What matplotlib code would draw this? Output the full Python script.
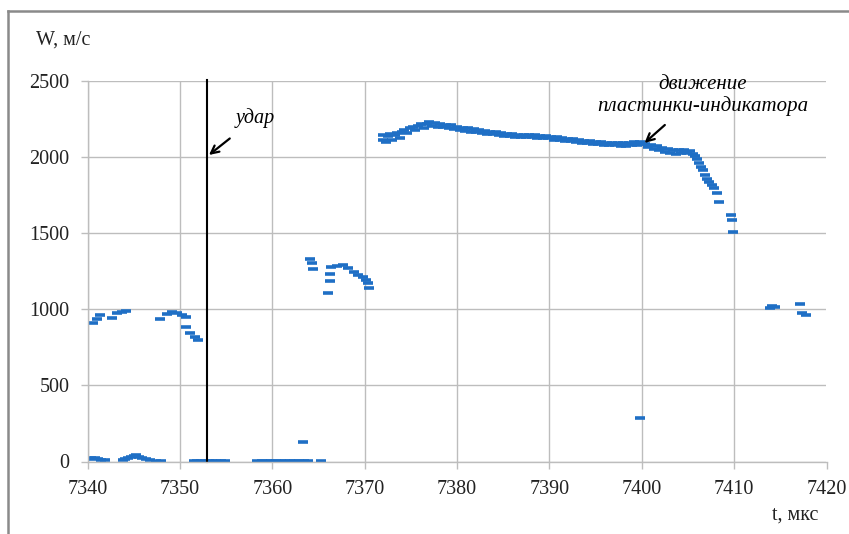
import matplotlib
matplotlib.use("Agg")
import matplotlib.pyplot as plt
from matplotlib.lines import Line2D

plt.rcParams['font.family'] = ['Liberation Serif', 'DejaVu Serif']

# скорость около нуля (до удара и между участками)
t_zero = [7340.1, 7340.4, 7340.8, 7341.1, 7341.5, 7341.9,
          7343.8, 7344.1, 7344.4, 7344.7, 7345.0, 7345.3, 7345.6, 7345.9,
          7346.3, 7346.8, 7347.4, 7348.0,
          7351.5, 7351.9, 7352.3, 7352.7, 7353.1, 7353.5, 7353.9, 7354.4, 7354.9,
          7358.4, 7358.9, 7359.4, 7359.9, 7360.4, 7360.9, 7361.4, 7361.9,
          7362.4, 7362.9, 7363.4, 7363.9, 7365.3,
          7363.3, 7399.8]
w_zero = [18, 22, 20, 15, 12, 8,
          10, 18, 25, 32, 38, 40, 30, 22,
          15, 8, 5, 4,
          5, 4, 5, 4, 5, 4, 5, 4, 5,
          5, 4, 5, 4, 5, 4, 5, 4,
          5, 4, 5, 4, 4,
          125, 285]

# участок около 1000 м/с
t_1000 = [7340.6, 7341.0, 7341.35, 7342.6, 7343.2, 7343.7, 7344.2,
          7347.85, 7348.6, 7349.1, 7349.65, 7350.2, 7350.7, 7350.7,
          7351.1, 7351.6, 7352.0]
w_1000 = [908, 934, 962, 941, 973, 984, 989,
          934, 969, 984, 978, 962, 947, 886,
          846, 820, 798]

# участок около 1300 м/с
t_1300 = [7364.1, 7364.3, 7364.4, 7366.2, 7366.2, 7366.05,
          7366.4, 7367.0, 7367.7, 7368.2, 7368.8, 7369.3, 7369.8,
          7370.15, 7370.4, 7370.5]
w_1300 = [1328, 1306, 1262, 1232, 1188, 1109,
          1280, 1284, 1289, 1269, 1247, 1225, 1210,
          1192, 1175, 1138]

# движение пластинки-индикатора
t_plate = [7372.0, 7372.0, 7372.3, 7372.5, 7372.8, 7373.0, 7373.3, 7373.5,
           7373.8, 7374.0, 7374.3, 7374.6, 7374.9, 7375.2, 7375.5, 7375.8,
           7376.1, 7376.4, 7376.7, 7377.0, 7377.3, 7377.6, 7377.9, 7378.2,
           7378.5, 7378.8, 7379.1, 7379.4, 7379.7, 7380.0, 7380.3, 7380.6,
           7380.9, 7381.2, 7381.5, 7381.8, 7382.1, 7382.4, 7382.7, 7383.0,
           7383.3, 7383.6, 7383.9, 7384.2, 7384.5, 7384.8, 7385.1, 7385.4,
           7385.7, 7386.0, 7386.3, 7386.6, 7386.9, 7387.2, 7387.5, 7387.8,
           7388.1, 7388.4, 7388.7, 7389.0, 7389.3, 7389.6, 7389.9, 7390.2,
           7390.5, 7390.8, 7391.1, 7391.4, 7391.7, 7392.0, 7392.3, 7392.6,
           7392.9, 7393.2, 7393.5, 7393.8, 7394.1, 7394.4, 7394.7, 7395.0,
           7395.3, 7395.6, 7395.9, 7396.2, 7396.5, 7396.8, 7397.1, 7397.4,
           7397.7, 7398.0, 7398.3, 7398.6, 7398.9, 7399.2, 7399.5, 7399.8,
           7400.1, 7400.4, 7400.7, 7401.0, 7401.3, 7401.6, 7401.9, 7402.2,
           7402.5, 7402.8, 7403.1, 7403.4, 7403.7, 7404.0, 7404.3, 7404.6,
           7404.9, 7405.2, 7405.5, 7405.8, 7406.0, 7406.2, 7406.4, 7406.6,
           7406.9, 7407.1, 7407.3, 7407.6, 7407.8, 7408.2, 7408.4,
           7409.7, 7409.8, 7409.9]
w_plate = [2110, 2145, 2100, 2140, 2155, 2110, 2145, 2160,
           2125, 2165, 2180, 2160, 2190, 2200, 2175, 2205,
           2215, 2190, 2220, 2230, 2205, 2225, 2200, 2220,
           2195, 2212, 2190, 2208, 2185, 2200, 2180, 2193,
           2172, 2188, 2168, 2182, 2163, 2178, 2160, 2173,
           2155, 2168, 2150, 2163, 2145, 2158, 2140, 2153,
           2137, 2150, 2135, 2148, 2132, 2145, 2130, 2144,
           2129, 2143, 2128, 2141, 2125, 2139, 2123, 2135,
           2115, 2129, 2110, 2125, 2105, 2121, 2103, 2117,
           2099, 2113, 2095, 2109, 2091, 2105, 2087, 2101,
           2083, 2098, 2081, 2095, 2078, 2093, 2077, 2091,
           2075, 2090, 2075, 2093, 2079, 2096, 2080, 2098,
           2083, 2085, 2065, 2080, 2055, 2072, 2045, 2062,
           2035, 2052, 2025, 2045, 2020, 2048, 2030, 2046,
           2025, 2043, 2022, 2010, 1985, 1960, 1935, 1915,
           1880, 1855, 1835, 1815, 1800, 1765, 1705,
           1620, 1590, 1505]

# отдельные точки после 7410 мкс
t_tail = [7413.9, 7414.05, 7414.4, 7417.1, 7417.4, 7417.8]
w_tail = [1006, 1022, 1013, 1035, 974, 962]

t_impact = 7352.9

x_ticks = list(range(7340, 7421, 10))
y_ticks = [0, 500, 1000, 1500, 2000, 2500]

blue = '#1f6fc5'
grid_col = '#bdbdbd'

fig = plt.figure(figsize=(8.49, 5.34), dpi=100)
ax = fig.add_axes([87.5 / 849, 72.5 / 534, 739 / 849, 380.5 / 534])

for t, w in [(t_zero, w_zero), (t_1000, w_1000), (t_1300, w_1300),
             (t_plate, w_plate), (t_tail, w_tail)]:
    ax.plot(t, w, linestyle='none', marker='_', markersize=6.5,
            markeredgewidth=2.6, color=blue)

ax.axvline(t_impact, color='black', lw=1.5, ymax=1.003, clip_on=False)

ax.set_xlim(7340, 7420)
ax.set_ylim(0, 2500)
ax.set_xticks(x_ticks)
ax.set_yticks(y_ticks)
ax.grid(True, color=grid_col, lw=1.0)
ax.set_axisbelow(True)
for side in ['top', 'right']:
    ax.spines[side].set_visible(False)
for side in ['left', 'bottom']:
    ax.spines[side].set_color(grid_col)
    ax.spines[side].set_linewidth(1.0)
ax.tick_params(axis='both', colors=grid_col, labelcolor='#222222',
               labelsize=14.5, length=5, width=1.0)
ax.tick_params(axis='y', pad=8)
ax.tick_params(axis='x', pad=8)

ax.annotate('удар', xy=(7353.15, 2014), xytext=(7358.2, 2257),
            fontsize=14.5, style='italic', ha='center', va='center',
            arrowprops=dict(arrowstyle='->', color='black', lw=1.6,
                            shrinkA=9, shrinkB=0, mutation_scale=14))
ax.annotate('', xy=(7400.3, 2093), xytext=(7402.5, 2211),
            arrowprops=dict(arrowstyle='->', color='black', lw=1.6,
                            shrinkA=0, shrinkB=0, mutation_scale=14))
ax.text(7406.6, 2474, 'движение', fontsize=15, style='italic',
        ha='center', va='center', clip_on=False)
ax.text(7406.6, 2336, 'пластинки-индикатора', fontsize=15, style='italic',
        ha='center', va='center')

fig.text(63 / 849, 1 - 40 / 534, 'W, м/с', fontsize=14.5, ha='center',
         va='center', color='#222222')
fig.text(795 / 849, 1 - 515 / 534, 't, мкс', fontsize=14.5, ha='center',
         va='center', color='#222222')

# рамка рисунка
frame = '#8a8a8a'
fig.add_artist(Line2D([8 / 849, 1], [1 - 11 / 534, 1 - 11 / 534],
                      color=frame, lw=1.8, transform=fig.transFigure))
fig.add_artist(Line2D([8 / 849, 8 / 849], [0, 1 - 11 / 534],
                      color=frame, lw=1.8, transform=fig.transFigure))

fig.savefig('out.png', dpi=100)
